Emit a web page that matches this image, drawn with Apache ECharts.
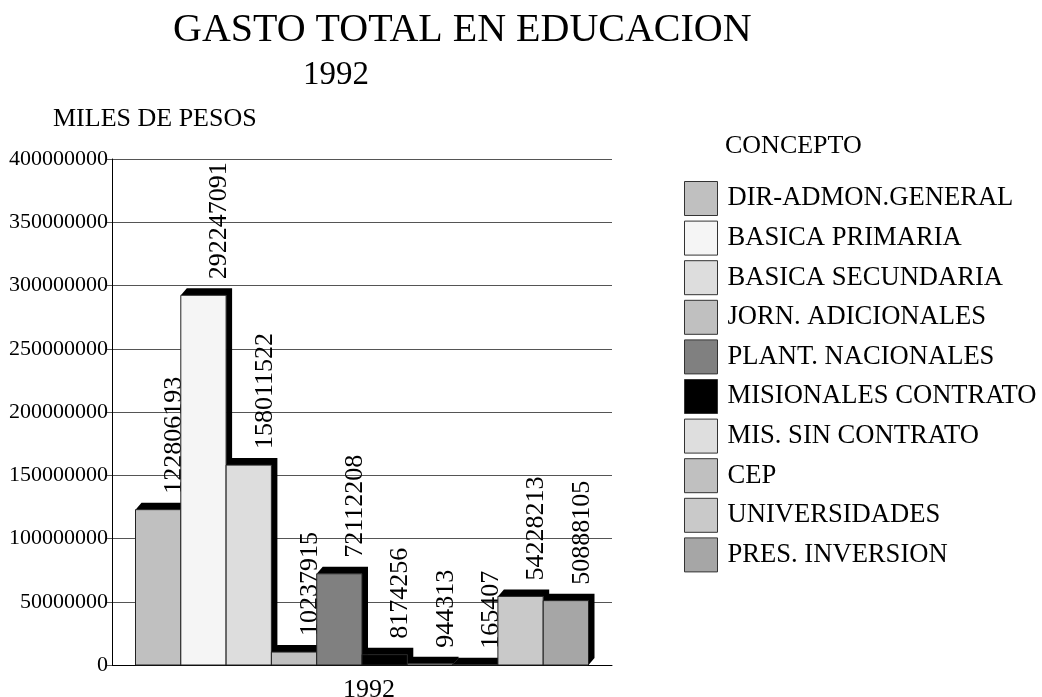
<!DOCTYPE html>
<html>
<head>
<meta charset="utf-8">
<script src="https://cdn.jsdelivr.net/npm/echarts@6/dist/echarts.min.js"></script>
<style>
  html, body { margin: 0; padding: 0; background: #fff; }
  #chart { width: 1042px; height: 697px; }
</style>
</head>
<body>
<div id="chart"></div>
<script>
const years = ['1992']
const concepts = [
  'DIR-ADMON.GENERAL',
  'BASICA PRIMARIA',
  'BASICA SECUNDARIA',
  'JORN. ADICIONALES',
  'PLANT. NACIONALES',
  'MISIONALES CONTRATO',
  'MIS. SIN CONTRATO',
  'CEP',
  'UNIVERSIDADES',
  'PRES. INVERSION',
]
const gasto = [122806193, 292247091, 158011522, 10237915, 72112208, 8174256, 944313, 165407, 54228213, 50888105]
const fills = ['#c0c0c0', '#f5f5f5', '#dddddd', '#c0c0c0', '#808080', '#000000', '#dedede', '#c0c0c0', '#c9c9c9', '#a6a6a6']

const serif = "'Liberation Serif', 'Times New Roman', serif"

// bar geometry (px): face width, 3D depth offset
const barW = 45.3
const depthX = 6
const depthY = 7

const chart = echarts.init(document.getElementById('chart'))

function makeRender(idx) {
  return function (params, api) {
    const top = api.coord([api.value(0), api.value(1)])
    const base = api.coord([api.value(0), 0])
    const x0 = top[0] - (concepts.length * barW) / 2 + idx * barW
    const x1 = x0 + barW
    const yTop = top[1]
    const yBase = base[1]
    return {
      type: 'group',
      children: [
        {
          type: 'polygon',
          shape: {
            points: [
              [x0, yTop], [x0 + depthX, yTop - depthY], [x1 + depthX, yTop - depthY],
              [x1 + depthX, yBase - depthY], [x1, yBase], [x1, yTop],
            ],
          },
          style: { fill: '#000' },
        },
        {
          type: 'rect',
          shape: { x: x0, y: yTop, width: barW, height: yBase - yTop },
          style: { fill: api.visual('color'), stroke: '#222', lineWidth: 1 },
        },
        {
          type: 'text',
          x: (x0 + x1) / 2 + 16,
          y: yTop - 16,
          rotation: Math.PI / 2,
          style: {
            text: String(api.value(1)),
            fill: '#000',
            fontFamily: serif,
            fontSize: 26,
            align: 'left',
            verticalAlign: 'middle',
          },
        },
      ],
    }
  }
}

const series = concepts.map((name, i) => ({
  name,
  type: 'custom',
  itemStyle: { color: fills[i], borderColor: '#222', borderWidth: 1 },
  renderItem: makeRender(i),
  encode: { x: 0, y: 1 },
  data: [[years[0], gasto[i]]],
}))

chart.setOption({
  animation: false,
  textStyle: { fontFamily: serif },
  title: [
    { text: 'GASTO TOTAL EN EDUCACION', left: 173, top: 10, padding: 0,
      textStyle: { fontFamily: serif, fontSize: 40, fontWeight: 'normal', color: '#000' } },
    { text: '1992', left: 303, top: 59, padding: 0,
      textStyle: { fontFamily: serif, fontSize: 33, fontWeight: 'normal', color: '#000' } },
    { text: 'MILES DE PESOS', left: 53, top: 106, padding: 0,
      textStyle: { fontFamily: serif, fontSize: 26, fontWeight: 'normal', color: '#000' } },
    { text: 'CONCEPTO', left: 725, top: 133, padding: 0,
      textStyle: { fontFamily: serif, fontSize: 26, fontWeight: 'normal', color: '#000' } },
  ],
  legend: {
    orient: 'vertical',
    left: 684,
    top: 181,
    padding: 0,
    itemWidth: 33,
    itemHeight: 34,
    itemGap: 4.6,
    icon: 'rect',
    selectedMode: false,
    itemStyle: { borderColor: '#333', borderWidth: 1 },
    textStyle: { fontFamily: serif, fontSize: 26.6, color: '#000', padding: [0, 0, 0, 5] },
    data: concepts,
  },
  grid: { left: 112, right: 430, top: 159, bottom: 32, outerBoundsMode: 'none', containLabel: false },
  xAxis: {
    type: 'category',
    data: years,
    axisLine: { lineStyle: { color: '#000', width: 1 } },
    axisTick: { alignWithLabel: true, length: 7, lineStyle: { color: '#000' } },
    axisLabel: { color: '#000', fontFamily: serif, fontSize: 26, margin: 12, padding: [0, 0, 0, 14] },
  },
  yAxis: {
    type: 'value',
    min: 0,
    max: 400000000,
    interval: 50000000,
    axisLine: { show: true, lineStyle: { color: '#000', width: 1 } },
    axisTick: { show: true, length: 5, lineStyle: { color: '#555' } },
    axisLabel: { color: '#000', fontFamily: serif, fontSize: 22, margin: 4, formatter: v => String(v) },
    splitLine: { lineStyle: { color: '#555', width: 1 } },
  },
  series,
})
</script>
</body>
</html>
